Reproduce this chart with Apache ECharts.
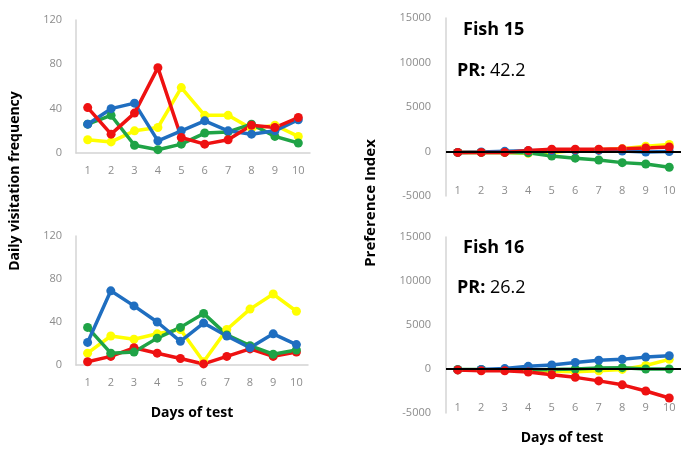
<!DOCTYPE html>
<html><head><meta charset="utf-8">
<script src="https://cdn.jsdelivr.net/npm/echarts@6/dist/echarts.min.js"></script>
<style>html,body{margin:0;padding:0;background:#fff}#c{width:685px;height:454px}</style>
</head><body><div id="c"></div>
<script>
var days = ['1','2','3','4','5','6','7','8','9','10'];
var visTicksMax = 120, piMin = -5000, piMax = 15000;

// Fish 15 daily visitation frequency
var f15Blue   = [26, 40, 45, 11, 20, 29, 20, 17, 20, 30];
var f15Red    = [41, 17, 36, 77, 14, 8, 12, 25, 23, 32];
var f15Yellow = [12, 10, 20, 23, 59, 34, 34, 22, 25, 15];
var f15Green  = [26, 34, 7, 3, 8, 18, 19, 26, 15, 9];
// Fish 16 daily visitation frequency
var f16Blue   = [21, 69, 55, 40, 22, 39, 27, 16, 29, 19];
var f16Green  = [35, 11, 12, 25, 35, 48, 28, 18, 10, 14];
var f16Yellow = [11, 27, 24, 29, 33, 3, 33, 52, 66, 50];
var f16Red    = [3, 8, 16, 11, 6, 1, 8, 15, 8, 12];
// Fish 15 preference index
var p15Blue   = [-100, -50, 20, 80, 100, 120, 120, 50, -50, 0];
var p15Red    = [-100, -100, -100, 100, 250, 250, 250, 300, 400, 500];
var p15Yellow = [-100, -100, -100, -200, -100, 100, 200, 300, 600, 800];
var p15Green  = [-100, -100, -100, -150, -500, -750, -950, -1250, -1400, -1770];
// Fish 16 preference index
var p16Blue   = [-100, -50, 50, 300, 450, 750, 1000, 1100, 1350, 1500];
var p16Red    = [-100, -200, -200, -350, -650, -950, -1350, -1800, -2500, -3300];
var p16Green  = [-50, -50, -100, -100, -50, 0, 100, 150, 0, 0];
var p16Yellow = [-100, -100, -100, -150, -250, -300, -200, -50, 400, 1100];

var C = {blue:'#1F6EC0', red:'#EE1111', green:'#1FA346', yellow:'#FFFF00'};
var grey = '#8c8c8c', axisGrey = '#d4d4d4';
var font = 'Open Sans';

var grids = [
  {left:76, top:20, width:234, height:133},
  {left:76, top:236, width:232, height:129},
  {left:446, top:18, width:235, height:178},
  {left:446, top:237, width:235, height:176}
];
var xAxes = [], yAxes = [];
grids.forEach(function(g, i){
  var right = i >= 2;
  xAxes.push({
    type:'category', data:days, gridIndex:i, boundaryGap:true,
    axisLine:{show:!right, onZero:false, lineStyle:{color:axisGrey, width:1.5}},
    axisTick:{show:false},
    axisLabel:{color:grey, fontFamily:font, fontSize:11, margin: right ? -11 : 12}
  });
  yAxes.push({
    type:'value', gridIndex:i,
    min: right ? piMin : 0, max: right ? piMax : visTicksMax, interval: right ? 5000 : 40,
    splitLine:{show:false},
    axisLine:{show:true, lineStyle:{color:axisGrey, width:1.5}},
    axisTick:{show:false},
    axisLabel:{color:grey, fontFamily:font, fontSize:11, margin: right ? 15 : 14,
      formatter:function(v){ return String(v); }}
  });
});

function ser(data, color, idx, extra){
  var s = {
    type:'line', data:data, xAxisIndex:idx, yAxisIndex:idx,
    symbol:'circle', symbolSize:9, showSymbol:true,
    lineStyle:{color:color, width:3.5}, itemStyle:{color:color},
    animation:false, silent:true
  };
  if (extra) s.markLine = extra;
  return s;
}
var zeroLine = {symbol:'none', silent:true, label:{show:false},
  lineStyle:{color:'#000', width:2, type:'solid'}, data:[{yAxis:0}], animation:false};

var series = [
  ser(f15Yellow, C.yellow, 0), ser(f15Green, C.green, 0), ser(f15Blue, C.blue, 0), ser(f15Red, C.red, 0),
  ser(f16Yellow, C.yellow, 1), ser(f16Red, C.red, 1), ser(f16Green, C.green, 1), ser(f16Blue, C.blue, 1),
  ser(p15Yellow, C.yellow, 2, zeroLine), ser(p15Green, C.green, 2), ser(p15Blue, C.blue, 2), ser(p15Red, C.red, 2),
  ser(p16Yellow, C.yellow, 3, zeroLine), ser(p16Green, C.green, 3), ser(p16Blue, C.blue, 3), ser(p16Red, C.red, 3)
];

var rich = {b:{fontFamily:font, fontWeight:'bold', fontSize:18, color:'#000'},
            n:{fontFamily:font, fontWeight:'normal', fontSize:18, color:'#000'}};
var titleText = {fontFamily:font, fontWeight:'bold', fontSize:18, color:'#000', rich:rich};

var chart = echarts.init(document.getElementById('c'), null, {renderer:'canvas'});
chart.setOption({
  backgroundColor:'#fff',
  animation:false,
  title:[
    {text:'Fish 15', left:458, top:16, textStyle:titleText},
    {text:'{b|PR:} {n|42.2}', left:452, top:57, textStyle:titleText},
    {text:'Fish 16', left:458, top:234, textStyle:titleText},
    {text:'{b|PR:} {n|26.2}', left:452, top:274, textStyle:titleText}
  ],
  graphic:[
    {type:'text', x:15, y:181, rotation:Math.PI/2, style:{text:'Daily visitation frequency', fontFamily:font, fontWeight:'bold', fontSize:14, fill:'#000', align:'center', verticalAlign:'middle'}},
    {type:'text', x:371, y:203, rotation:Math.PI/2, style:{text:'Preference Index', fontFamily:font, fontWeight:'bold', fontSize:15, fill:'#000', align:'center', verticalAlign:'middle'}},
    {type:'text', x:192, y:413, style:{text:'Days of test', fontFamily:font, fontWeight:'bold', fontSize:14, fill:'#000', align:'center', verticalAlign:'middle'}},
    {type:'text', x:562, y:438, style:{text:'Days of test', fontFamily:font, fontWeight:'bold', fontSize:14, fill:'#000', align:'center', verticalAlign:'middle'}}
  ],
  grid:grids, xAxis:xAxes, yAxis:yAxes, series:series
});
</script></body></html>
